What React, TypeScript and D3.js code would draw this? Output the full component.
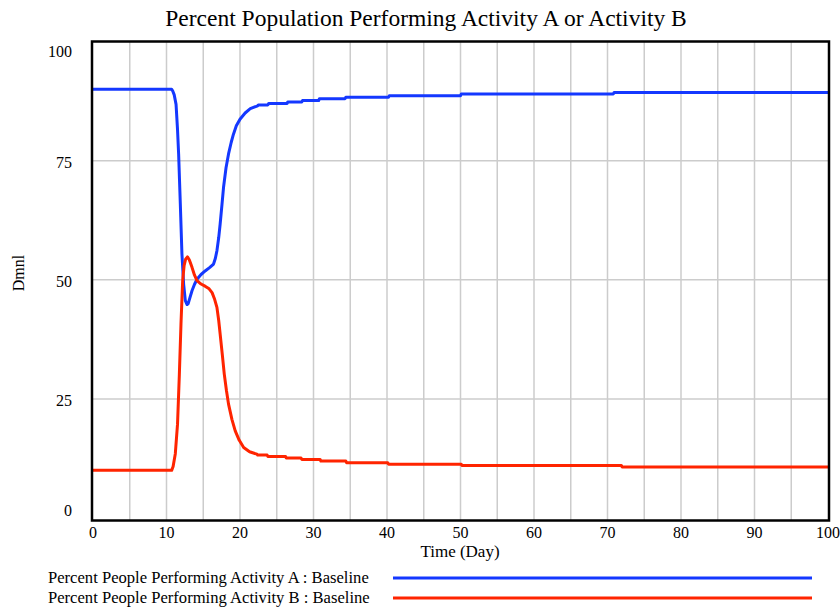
import React from "react";
import * as d3 from "d3";

const titleText = "Percent Population Performing Activity A or Activity B";
const xLabel = "Time (Day)";
const yLabel = "Dmnl";
const xTicks = [0, 10, 20, 30, 40, 50, 60, 70, 80, 90, 100];
const yTicks = [0, 25, 50, 75, 100];
const xGrid = [5, 10, 15, 20, 25, 30, 35, 40, 45, 50, 55, 60, 65, 70, 75, 80, 85, 90, 95];
const yGrid = [25, 50, 75];

const seriesNames = [
  "Percent People Performing Activity A : Baseline",
  "Percent People Performing Activity B : Baseline",
];

const timeA = [
  0, 10.7, 10.85, 11.05, 11.3, 11.5, 11.65, 11.88, 12.1, 12.33, 12.56, 12.8, 12.95, 13.2, 13.47, 13.8,
  14.15, 14.7, 15.3, 15.9, 16.4, 16.65, 16.86, 17.1, 17.3, 17.55, 17.76, 18.1, 18.44, 18.8, 19.1, 19.5,
  20.0, 20.7, 21.4, 22.4, 22.5, 23.8, 23.9, 26.4, 26.5, 28.4, 28.5, 30.7, 30.8, 34.3, 34.4, 40.2, 40.3,
  50.0, 50.1, 70.8, 70.9, 100,
];
const valuesA = [
  90, 90, 89.6, 88.8, 86.8, 81.5, 76.4, 65.9, 55.4, 49.1, 45.6, 44.8, 45.0, 46.3, 47.7, 49.0,
  50.1, 51.1, 51.9, 52.6, 53.3, 54.5, 56.1, 58.8, 61.7, 65.8, 69.4, 73.5, 76.4, 78.8, 80.5, 82.3,
  83.7, 85.0, 85.9, 86.5, 86.7, 86.7, 87.0, 87.0, 87.3, 87.3, 87.6, 87.6, 88.0, 88.0, 88.3, 88.3, 88.6,
  88.6, 89.0, 89.0, 89.3, 89.3,
];

const timeB = [
  0, 10.7, 10.9, 11.2, 11.5, 11.75, 11.97, 12.2, 12.4, 12.6, 12.85, 13.1, 13.47, 13.8, 14.15, 14.7,
  15.3, 15.8, 16.2, 16.55, 16.86, 17.1, 17.3, 17.6, 17.86, 18.15, 18.44, 18.9, 19.35, 19.9, 20.5, 21.3,
  22.3, 22.4, 23.7, 23.8, 26.2, 26.3, 28.3, 28.4, 30.9, 31.0, 34.4, 34.5, 40.1, 40.2, 50.1, 50.2,
  71.9, 72.0, 100,
];
const valuesB = [
  10, 10, 10.8, 13.5, 19.7, 30.2, 40.7, 49.8, 53.0, 54.3, 54.8, 54.2, 52.6, 51.0, 49.8, 49.1,
  48.6, 48.1, 47.3, 45.9, 44.2, 41.5, 38.6, 34.2, 30.2, 26.8, 23.9, 20.7, 18.3, 16.3, 14.8, 13.9,
  13.4, 13.2, 13.2, 12.9, 12.9, 12.6, 12.6, 12.3, 12.3, 11.95, 11.95, 11.6, 11.6, 11.3, 11.3, 11.0,
  11.0, 10.7, 10.7,
];

const colors = ["#1438ff", "#ff2400"];

export default function App() {
  const x = d3.scaleLinear().domain([0, 100]).range([93, 828]);
  const y = d3.scaleLinear().domain([0, 100]).range([518, 41.5]);
  const line = d3
    .line<[number, number]>()
    .x((d) => x(d[0]))
    .y((d) => y(d[1]));
  const dataA = timeA.map((t, i) => [t, valuesA[i]] as [number, number]);
  const dataB = timeB.map((t, i) => [t, valuesB[i]] as [number, number]);
  const font = "'Liberation Serif', 'Times New Roman', serif";

  const yOffset = (v: number) => (v === 100 ? 15 : v === 0 ? -2 : 7);

  return (
    <svg
      width={840}
      height={610}
      style={{ position: "absolute", left: 0, top: 0, background: "#fff" }}
      fontFamily={font}
    >
      <rect x={0} y={0} width={840} height={610} fill="#fff" />
      <text x={426} y={26} textAnchor="middle" fontSize={23.5} fill="#000">
        {titleText}
      </text>
      {xGrid.map((v) => (
        <line key={"gx" + v} x1={x(v)} x2={x(v)} y1={41.5} y2={520} stroke="#cccccc" strokeWidth={1.5} />
      ))}
      {yGrid.map((v) => (
        <line key={"gy" + v} x1={92} x2={829} y1={y(v)} y2={y(v)} stroke="#cccccc" strokeWidth={1.5} />
      ))}
      <path d={line(dataA) || ""} fill="none" stroke={colors[0]} strokeWidth={3} strokeLinejoin="round" />
      <path d={line(dataB) || ""} fill="none" stroke={colors[1]} strokeWidth={3} strokeLinejoin="round" />
      <rect x={92} y={41.5} width={737} height={479} fill="none" stroke="#000" strokeWidth={2.5} />
      {xTicks.map((v) => (
        <text key={"xt" + v} x={x(v)} y={538} textAnchor="middle" fontSize={16} fill="#000">
          {v}
        </text>
      ))}
      {yTicks.map((v) => (
        <text key={"yt" + v} x={72} y={y(v) + yOffset(v)} textAnchor="end" fontSize={16} fill="#000">
          {v}
        </text>
      ))}
      <text x={460} y={557} textAnchor="middle" fontSize={17} fill="#000">
        {xLabel}
      </text>
      <text
        transform={`translate(24, 273) rotate(-90)`}
        textAnchor="middle"
        fontSize={16}
        fill="#000"
      >
        {yLabel}
      </text>
      {seriesNames.map((name, i) => (
        <g key={name}>
          <text x={48} y={583 + i * 20} fontSize={16.6} fill="#000">
            {name}
          </text>
          <line
            x1={393}
            x2={812}
            y1={578 + i * 20}
            y2={578 + i * 20}
            stroke={colors[i]}
            strokeWidth={3}
          />
        </g>
      ))}
    </svg>
  );
}
